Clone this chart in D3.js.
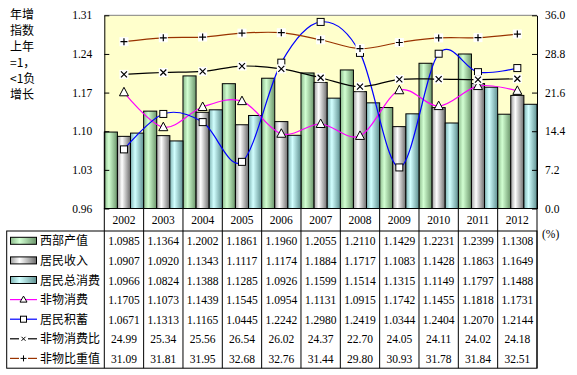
<!DOCTYPE html>
<html><head><meta charset="utf-8">
<script src="https://cdn.jsdelivr.net/npm/d3@7"></script>
<style>body{margin:0;background:#fff}</style>
</head><body>
<svg id="c" width="577" height="375"></svg>
<script>
const years = ["2002","2003","2004","2005","2006","2007","2008","2009","2010","2011","2012"];
const westOutput = [1.0985,1.1364,1.2002,1.1861,1.1960,1.2055,1.2110,1.1429,1.2231,1.2399,1.1308];
const income = [1.0907,1.0920,1.1343,1.1117,1.1174,1.1884,1.1717,1.1083,1.1428,1.1863,1.1649];
const totalConsumption = [1.0966,1.0824,1.1388,1.1285,1.0926,1.1599,1.1514,1.1315,1.1149,1.1797,1.1488];
const nonMatConsumption = [1.1705,1.1073,1.1439,1.1545,1.0954,1.1131,1.0915,1.1742,1.1455,1.1818,1.1731];
const savings = [1.0671,1.1313,1.1165,1.0445,1.2242,1.2980,1.2419,1.0344,1.2404,1.2070,1.2144];
const nonMatRatio = [24.99,25.34,25.56,26.54,26.02,24.37,22.70,24.05,24.11,24.02,24.18];
const nonMatShare = [31.09,31.81,31.95,32.68,32.76,31.44,29.80,30.93,31.78,31.84,32.51];
const leftTicks = [0.96,1.03,1.10,1.17,1.24,1.31];
const rightTicks = [0,7.2,14.4,21.6,28.8,36.0];
const titleLines = ["年增","指数","上年","=1，","<1负","增长"];

const svg = d3.select("#c");
const L = 104.3, R = 537, T = 15.3, B = 208.5;
const x = d3.scaleBand().domain(years).range([L, R]).padding(0);
const yL = d3.scaleLinear().domain([0.96, 1.31]).range([B, T]);
const yR = d3.scaleLinear().domain([0, 36]).range([B, T]);
const numFont = "'Liberation Serif','Times New Roman',serif";
const cjkFont = "'Noto Sans CJK SC',sans-serif";

const defs = svg.append("defs");
function grad(id, edgeL, mid, edgeR) {
  const g = defs.append("linearGradient").attr("id", id).attr("x1",0).attr("x2",1).attr("y1",0).attr("y2",0);
  g.append("stop").attr("offset","0").attr("stop-color",edgeL);
  g.append("stop").attr("offset","0.35").attr("stop-color",mid);
  g.append("stop").attr("offset","1").attr("stop-color",edgeR);
}
grad("gG","#8cba8c","#d2ffd2","#6a946a");
grad("gW","#a0a0a0","#ffffff","#6c6c6c");
grad("gC","#80b4b4","#d2ffff","#5f9090");

// plot background
svg.append("rect").attr("x",L).attr("y",T).attr("width",R-L).attr("height",B-T).attr("fill","#ffffcc");
svg.append("line").attr("x1",L).attr("x2",R).attr("y1",T).attr("y2",T).attr("stroke","#808080");

// bars
const barSeries = [
  {name:"西部产值", vals: westOutput, fill:"url(#gG)"},
  {name:"居民收入", vals: income, fill:"url(#gW)"},
  {name:"居民总消费", vals: totalConsumption, fill:"url(#gC)"}
];
const bw = x.bandwidth()/3;
barSeries.forEach((s, si) => {
  svg.append("g").selectAll("rect").data(s.vals).join("rect")
    .attr("x", (d,i) => x(years[i]) + si*bw)
    .attr("y", d => yL(d))
    .attr("width", bw)
    .attr("height", d => B - yL(d))
    .attr("fill", s.fill).attr("stroke","#000").attr("stroke-width",1);
});

// lines
const cx = i => x(years[i]) + x.bandwidth()/2;
const lineSeries = [
  {name:"非物消费", vals: nonMatConsumption, scale: yL, color:"#ff00ff", marker:"tri"},
  {name:"居民积蓄", vals: savings, scale: yL, color:"#0000ff", marker:"sq"},
  {name:"非物消费比", vals: nonMatRatio, scale: yR, color:"#000000", marker:"x"},
  {name:"非物比重值", vals: nonMatShare, scale: yR, color:"#993300", marker:"plus"}
];
function drawMarker(g, type, px, py) {
  if (type === "tri") {
    g.append("path").attr("d", `M${px},${py-5}L${px+4.5},${py+3.5}L${px-4.5},${py+3.5}Z`)
      .attr("fill","#fff").attr("stroke","#000").attr("stroke-width",1);
  } else if (type === "sq") {
    g.append("rect").attr("x",px-3.5).attr("y",py-3.5).attr("width",7).attr("height",7)
      .attr("fill","#fff").attr("stroke","#000").attr("stroke-width",1);
  } else if (type === "x") {
    g.append("rect").attr("x",px-4.5).attr("y",py-4.5).attr("width",9).attr("height",9).attr("fill","#fff");
    g.append("path").attr("d",`M${px-3},${py-3}L${px+3},${py+3}M${px-3},${py+3}L${px+3},${py-3}`)
      .attr("stroke","#000").attr("stroke-width",1.2);
  } else {
    g.append("rect").attr("x",px-4.5).attr("y",py-4.5).attr("width",9).attr("height",9).attr("fill","#fff");
    g.append("path").attr("d",`M${px-3.5},${py}L${px+3.5},${py}M${px},${py-3.5}L${px},${py+3.5}`)
      .attr("stroke","#000").attr("stroke-width",1.2);
  }
}
lineSeries.forEach(s => {
  const line = d3.line().x((d,i) => cx(i)).y(d => s.scale(d)).curve(d3.curveCardinal.tension(0));
  svg.append("path").datum(s.vals).attr("d", line).attr("fill","none").attr("stroke", s.color).attr("stroke-width",1.2);
});
lineSeries.forEach(s => {
  const g = svg.append("g");
  s.vals.forEach((v,i) => drawMarker(g, s.marker, cx(i), s.scale(v)));
});

// axes
const axL = svg.append("g").attr("transform",`translate(${L},0)`)
  .call(d3.axisLeft(yL).tickValues(leftTicks).tickFormat(d3.format(".2f")).tickSizeInner(-5).tickSizeOuter(0).tickPadding(12));
const axR = svg.append("g").attr("transform",`translate(${R},0)`)
  .call(d3.axisRight(yR).tickValues(rightTicks).tickFormat(d3.format(".1f")).tickSizeInner(-5).tickSizeOuter(0).tickPadding(8));
[axL, axR].forEach(a => {
  a.select(".domain").attr("stroke","#000");
  a.selectAll(".tick line").attr("stroke","#000");
  a.selectAll("text").attr("font-family",numFont).attr("font-size","11.5px").attr("fill","#000");
});
svg.append("line").attr("x1",L).attr("x2",R).attr("y1",B).attr("y2",B).attr("stroke","#000");

// y-axis title
svg.append("g").selectAll("text").data(titleLines).join("text")
  .attr("x", 10).attr("y", (d,i) => 19 + 16*i)
  .attr("font-family", cjkFont).attr("font-size","12px").text(d => d);

svg.append("text").attr("x",542).attr("y",238).attr("font-family",numFont).attr("font-size","11.5px").text("(%)");

// data table
const tTop = 231, rowH = 19.6, tLeft = 6.7;
const tBottom = tTop + rowH*7;
const tbl = svg.append("g");
tbl.selectAll("text.yr").data(years).join("text").attr("class","yr")
  .attr("x", d => x(d) + x.bandwidth()/2).attr("y", 224)
  .attr("text-anchor","middle").attr("font-family",numFont).attr("font-size","11.5px").text(d => d);
const vlines = years.map(d => x(d)).concat([R]);
tbl.selectAll("line.v").data(vlines).join("line").attr("class","v")
  .attr("x1", d => d).attr("x2", d => d).attr("y1", B).attr("y2", tBottom).attr("stroke","#000");
tbl.append("rect").attr("x",tLeft).attr("y",tTop).attr("width",R-tLeft).attr("height",tBottom-tTop)
  .attr("fill","none").attr("stroke","#000");
const rows = [
  {name:"西部产值", vals: westOutput, fmt: d3.format(".4f"), key:"bar", fill:"url(#gG)"},
  {name:"居民收入", vals: income, fmt: d3.format(".4f"), key:"bar", fill:"url(#gW)"},
  {name:"居民总消费", vals: totalConsumption, fmt: d3.format(".4f"), key:"bar", fill:"url(#gC)"},
  {name:"非物消费", vals: nonMatConsumption, fmt: d3.format(".4f"), key:"tri", color:"#ff00ff"},
  {name:"居民积蓄", vals: savings, fmt: d3.format(".4f"), key:"sq", color:"#0000ff"},
  {name:"非物消费比", vals: nonMatRatio, fmt: d3.format(".2f"), key:"x", color:"#000000"},
  {name:"非物比重值", vals: nonMatShare, fmt: d3.format(".2f"), key:"plus", color:"#993300"}
];
rows.forEach((r, ri) => {
  const cy = tTop + rowH*(ri+0.5);
  const g = tbl.append("g");
  if (r.key === "bar") {
    g.append("rect").attr("x",10.5).attr("y",cy-3.5).attr("width",26).attr("height",7)
      .attr("fill",r.fill).attr("stroke","#000").attr("stroke-width",1);
  } else {
    g.append("line").attr("x1",10).attr("x2",37).attr("y1",cy).attr("y2",cy).attr("stroke",r.color).attr("stroke-width",1.2);
    if (r.key === "tri") g.append("path").attr("d",`M23.5,${cy-3.5}L27,${cy+2.5}L20,${cy+2.5}Z`).attr("fill","#fff").attr("stroke","#000");
    else if (r.key === "sq") g.append("rect").attr("x",20.5).attr("y",cy-3).attr("width",6).attr("height",6).attr("fill","#fff").attr("stroke","#000");
    else if (r.key === "x") { g.append("rect").attr("x",19).attr("y",cy-4).attr("width",9).attr("height",8).attr("fill","#fff");
      g.append("path").attr("d",`M21.5,${cy-2}L25.5,${cy+2}M21.5,${cy+2}L25.5,${cy-2}`).attr("stroke","#000"); }
    else { g.append("rect").attr("x",19).attr("y",cy-4).attr("width",9).attr("height",8).attr("fill","#fff");
      g.append("path").attr("d",`M20.5,${cy}L26.5,${cy}M23.5,${cy-3}L23.5,${cy+3}`).attr("stroke","#000"); }
  }
  g.append("text").attr("x",40).attr("y",cy+4.5).attr("font-family",cjkFont).attr("font-size","12px").text(r.name);
  g.selectAll("text.v").data(r.vals).join("text").attr("class","v")
    .attr("x",(d,i) => x(years[i]) + x.bandwidth()/2).attr("y", cy+4.5)
    .attr("text-anchor","middle").attr("font-family",numFont).attr("font-size","11.5px").text(d => r.fmt(d));
});
</script>
</body></html>
